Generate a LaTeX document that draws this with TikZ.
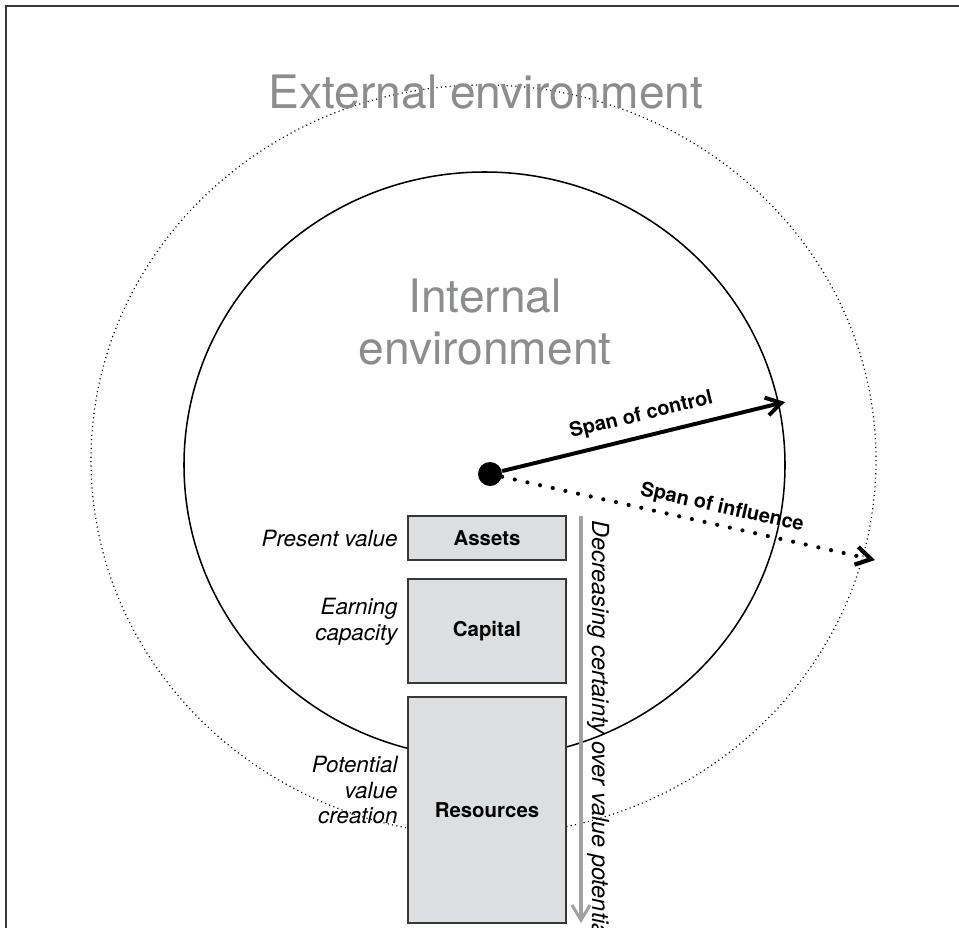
\documentclass[tikz,border=0pt]{standalone}
\usepackage{fontspec}
\setmainfont{TeX Gyre Heros}
\usetikzlibrary{arrows.meta}
\definecolor{envgray}{RGB}{140,141,143}
\definecolor{boxgray}{RGB}{221,222,224}
\definecolor{arrgray}{RGB}{160,161,163}
\definecolor{framegray}{RGB}{55,55,55}
\begin{document}
\begin{tikzpicture}[x=0.16mm, y=-0.16mm, >={Straight Barb[length=2.4mm,width=2.9mm]}]
\tikzstyle{every node}=[inner sep=0pt]
\tikzstyle{box}=[draw=framegray, line width=0.5pt, fill=boxgray, minimum width=25.28mm, font=\fontsize{9.3}{11}\selectfont\bfseries]
\tikzstyle{lbl}=[anchor=east, align=right, font=\fontsize{10.2}{11.8}\selectfont\itshape]
\tikzstyle{env}=[text=envgray, align=center, font=\fontsize{21}{23.7}\selectfont]
\tikzstyle{span}=[sloped, font=\fontsize{9.1}{11}\selectfont\bfseries]
\useasboundingbox (0,0) rectangle (959,928);
\clip (0,0) rectangle (959,928);
\draw[framegray, line width=0.8pt] (6,980) |- (980,6);
% the two environments
\draw[line width=0.55pt, dash pattern=on 0.5pt off 1.5pt] (483.5,460) ellipse [x radius=392.5, y radius=375];
\draw[line width=0.7pt] (484.5,465) ellipse [x radius=300.5, y radius=293];
\node[env](ext) at (486,92) {External environment};
\node[env](int) at (485,322) {Internal\\environment};
% value stack
\node[box, minimum height=7.04mm](assets) at (487,538) {Assets};
\node[box, minimum height=16.64mm](capital) at (487,631) {Capital};
\node[box, minimum height=36.16mm](resources) at (487,810) {Resources};
\node[lbl](pv) at (398,538) {Present value};
\node[lbl](ec) at (398,622) {Earning\\capacity};
\node[lbl](pvc) at (398,790) {Potential\\value\\creation};
% spans
\node[circle, fill=black, minimum size=3.84mm](core) at (490,474) {};
\coordinate (ctrl) at (785,402);
\coordinate (infl) at (875,560);
\draw[->, line width=1.8pt] (core) -- (ctrl) node[span, above=1.5mm, pos=0.51] {Span of control};
\draw[->, line width=1.9pt, line cap=round, dash pattern=on 0pt off 5.9pt] (core) -- (infl) node[span, above=0.9mm, pos=0.58] {Span of influence};
% certainty
\coordinate (dtop) at (581,516);
\coordinate (dbot) at (581,923);
\draw[->, arrgray, line width=1.4pt] (dtop) -- (dbot);
\node[rotate=-90, anchor=base west, font=\fontsize{10.7}{12}\selectfont\itshape](dec) at (592,520) {Decreasing certainty over value potential};
\end{tikzpicture}
\end{document}
